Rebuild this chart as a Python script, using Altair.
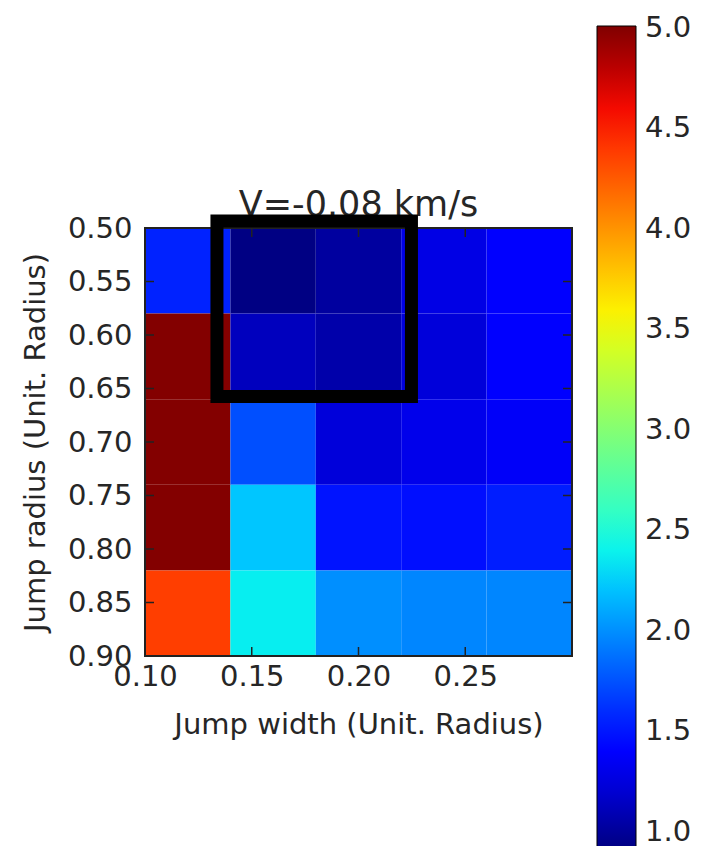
import altair as alt
import numpy as np
import pandas as pd

# ---- data ----
x_edges = [0.10, 0.14, 0.18, 0.22, 0.26, 0.30]
y_edges = [0.50, 0.58, 0.66, 0.74, 0.82, 0.90]
# rows: top (0.50-0.58) to bottom (0.82-0.90); columns left to right
row1 = [1.56, 0.92, 1.02, 1.27, 1.38]
row2 = [5.00, 1.13, 1.06, 1.23, 1.38]
row3 = [5.00, 1.74, 1.23, 1.29, 1.34]
row4 = [5.00, 2.22, 1.50, 1.48, 1.54]
row5 = [4.37, 2.38, 2.00, 1.96, 1.96]
rows = [row1, row2, row3, row4, row5]

x_ticks = [0.10, 0.15, 0.20, 0.25]
y_ticks = [0.50, 0.55, 0.60, 0.65, 0.70, 0.75, 0.80, 0.85, 0.90]
cbar_ticks = [1.0, 1.5, 2.0, 2.5, 3.0, 3.5, 4.0, 4.5, 5.0]
vmin, vmax = 0.91, 5.01

box_x = [0.1337, 0.2248]
box_y = [0.4934, 0.6574]

title = "V=-0.08 km/s"
x_title = "Jump width (Unit. Radius)"
y_title = "Jump radius (Unit. Radius)"

# ---- jet colormap (matplotlib segment data) ----
jet = {
    "red": [(0, 0), (0.35, 0), (0.66, 1), (0.89, 1), (1, 0.5)],
    "green": [(0, 0), (0.125, 0), (0.375, 1), (0.64, 1), (0.91, 0), (1, 0)],
    "blue": [(0, 0.5), (0.11, 1), (0.34, 1), (0.65, 0), (1, 0)],
}
ts = sorted(set(t for ch in jet.values() for t, _ in ch))


def comp(ch, t):
    return float(np.interp(t, [p[0] for p in jet[ch]], [p[1] for p in jet[ch]]))


jet_colors = ["#%02x%02x%02x" % tuple(int(round(comp(c, t) * 255)) for c in ("red", "green", "blue")) for t in ts]
jet_domain = [vmin + t * (vmax - vmin) for t in ts]

cells = []
for i, r in enumerate(rows):
    for j, v in enumerate(r):
        cells.append({"x0": x_edges[j], "x1": x_edges[j + 1], "y0": y_edges[i], "y1": y_edges[i + 1], "v": v})
cells = pd.DataFrame(cells)

W, H = 427, 428
FONT = "DejaVu Sans"
TXT = "#262626"
FS = 29

xscale = alt.Scale(domain=[0.10, 0.30], nice=False, zero=False)
yscale = alt.Scale(domain=[0.50, 0.90], nice=False, zero=False, reverse=True)
xaxis = alt.Axis(values=x_ticks, format=".2f", grid=False, domain=False, ticks=False,
                 labelFontSize=FS, labelFont=FONT, labelColor=TXT, labelPadding=6,
                 titleFontSize=FS, titleFont=FONT, titleColor=TXT, titleFontWeight="normal",
                 titlePadding=19, labelFlush=False)
yaxis = alt.Axis(values=y_ticks, format=".2f", grid=False, domain=False, ticks=False,
                 labelFontSize=FS, labelFont=FONT, labelColor=TXT, labelPadding=13,
                 titleFontSize=FS, titleFont=FONT, titleColor=TXT, titleFontWeight="normal",
                 titlePadding=17, labelFlush=False)
cscale = alt.Scale(domain=jet_domain, range=jet_colors, type="linear", interpolate="rgb", clamp=True)

heat = alt.Chart(cells).mark_rect().encode(
    x=alt.X("x0:Q", scale=xscale, title=x_title, axis=xaxis),
    x2="x1:Q",
    y=alt.Y("y0:Q", scale=yscale, title=y_title, axis=yaxis),
    y2="y1:Q",
    color=alt.Color("v:Q", scale=cscale,
                    legend=alt.Legend(type="gradient", orient="none", legendX=452, legendY=-202,
                                      title=None, direction="vertical", gradientLength=824,
                                      gradientThickness=39, values=cbar_ticks, format=".1f",
                                      labelFontSize=FS, labelFont=FONT, labelColor=TXT,
                                      labelOffset=9, labelOverlap=False,
                                      gradientStrokeColor="black", gradientStrokeWidth=1)),
)

xt = pd.DataFrame({"t": x_ticks})
yt = pd.DataFrame({"t": y_ticks})
TL = 9
tick_style = dict(color="#222", strokeWidth=1.5)
xb = alt.Chart(xt).mark_rule(**tick_style).encode(
    x=alt.X("t:Q", scale=xscale, title=x_title, axis=xaxis), y=alt.value(H), y2=alt.value(H - TL))
xtop = alt.Chart(xt).mark_rule(**tick_style).encode(
    x=alt.X("t:Q", scale=xscale, title=x_title, axis=xaxis), y=alt.value(0), y2=alt.value(TL))
yl = alt.Chart(yt).mark_rule(**tick_style).encode(
    y=alt.Y("t:Q", scale=yscale, title=y_title, axis=yaxis), x=alt.value(0), x2=alt.value(TL))
yr = alt.Chart(yt).mark_rule(**tick_style).encode(
    y=alt.Y("t:Q", scale=yscale, title=y_title, axis=yaxis), x=alt.value(W), x2=alt.value(W - TL))

frame = alt.Chart(pd.DataFrame({"a": [0]})).mark_rect(fillOpacity=0, stroke="#222", strokeWidth=2).encode(
    x=alt.value(0), x2=alt.value(W), y=alt.value(0), y2=alt.value(H))

title_txt = alt.Chart(pd.DataFrame({"label": [title]})).mark_text(
    font=FONT, fontSize=35, color=TXT, baseline="alphabetic", align="center").encode(
    x=alt.value(W / 2), y=alt.value(-12), text="label:N")

box = alt.Chart(pd.DataFrame({"x0": [box_x[0]], "x1": [box_x[1]], "y0": [box_y[0]], "y1": [box_y[1]]})).mark_rect(
    fillOpacity=0, stroke="black", strokeWidth=13).encode(
    x=alt.X("x0:Q", scale=xscale, title=x_title, axis=xaxis), x2="x1:Q",
    y=alt.Y("y0:Q", scale=yscale, title=y_title, axis=yaxis), y2="y1:Q")

chart = alt.layer(heat, xb, xtop, yl, yr, frame, title_txt, box).properties(
    width=W, height=H,
    autosize=alt.AutoSizeParams(type="none"),
    padding={"left": 137, "top": 220, "right": 121, "bottom": 190},
).configure_view(stroke=None).configure(background="white")

chart.save("out.html", embed_options={"renderer": "svg", "actions": False})
